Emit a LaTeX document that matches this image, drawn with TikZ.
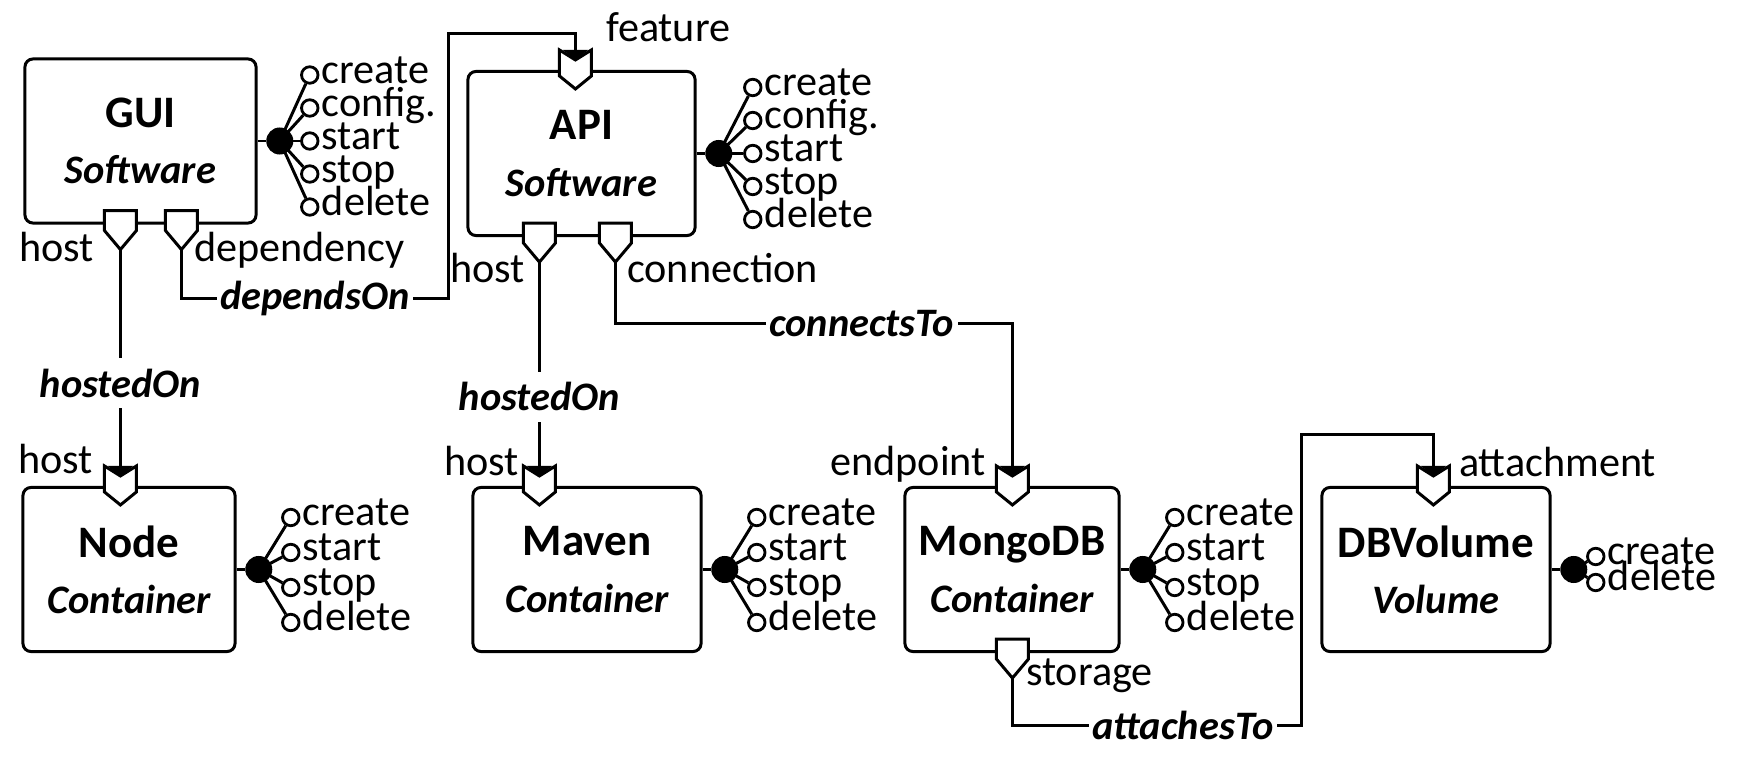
\documentclass[tikz,border=0pt]{standalone}
\usepackage{fontspec}
\setmainfont{Carlito}
\usepackage{tikz}
\usetikzlibrary{arrows.meta, positioning, calc}
\tikzstyle{component} = [rectangle, rounded corners=0.8mm, draw=black, line width=0.85pt, minimum height=1.64cm, align=center, inner sep=0pt, font=\fontsize{12.8}{16}\selectfont]
\tikzstyle{port} = [draw=black, fill=white, line width=0.85pt, line join=miter]
\tikzstyle{ifdot} = [circle, fill=black, minimum size=0.27cm, inner sep=0pt]
\tikzstyle{opcircle} = [circle, draw=black, fill=white, line width=0.8pt, minimum size=0.165cm, inner sep=0pt]
\tikzstyle{wire} = [line width=0.85pt]
\tikzstyle{link} = [line width=0.85pt, -{Triangle[width=2.5mm,length=1mm]}]
\tikzstyle{rel} = [fill=white, inner xsep=1pt, inner ysep=3pt, font=\fontsize{11.5}{13}\selectfont\bfseries\itshape]
\tikzstyle{plabel} = [inner sep=0pt, font=\fontsize{12}{14}\selectfont]

\newcommand{\comp}[2]{{\bfseries #1}\\{\fontsize{11.5}{16}\selectfont\bfseries\itshape #2}}

% requirement port under a box
\newcommand{\reqport}[3]{%
  \begin{scope}[shift={($(#2)+(#3,0)$)}]
    \draw[port] (-16,-14) -- (16,-14) -- (16,6) -- (0,25) -- (-16,6) -- cycle;
    \coordinate (#1) at (0,25);
  \end{scope}}
% capability port on top of a box
\newcommand{\capport}[3]{%
  \begin{scope}[shift={($(#2)+(#3,0)$)}]
    \draw[port] (-16,-20) -- (-16,6) -- (0,19) -- (16,6) -- (16,-20) -- (0,-10) -- cycle;
    \coordinate (#1) at (0,-10);
  \end{scope}}
% operations of a box
\newcommand{\interface}[5]{%
  \node (#1-if) [ifdot, right=0.08cm of #1] {};
  \draw[wire] (#1.east) -- (#1-if);
  \foreach \opname [count=\i] in {#5} {
    \pgfmathsetmacro{\dy}{#3+(\i-1)*#4}
    \node (#1-op\i) [opcircle] at ([shift={(#2,\dy)}]#1-if.center) {};
    \draw[wire] (#1-if.center) -- (#1-op\i);
    \node (#1-opl\i) [plabel, anchor=mid west, inner xsep=0.5pt] at (#1-op\i.east) {\opname};
  }}

\begin{document}
\begin{tikzpicture}[x=0.01cm, y=-0.01cm]
\useasboundingbox (0,0) rectangle (1747,770);

\node (gui) [component, minimum width=2.31cm] at (140.5,141) {\comp{GUI}{Software}};
\node (api) [component, minimum width=2.27cm] at (581.5,153.5) {\comp{API}{Software}};
\node (nodejs) [component, minimum width=2.12cm] at (129,569.5) {\comp{Node}{Container}};
\node (maven) [component, minimum width=2.28cm] at (587,569.5) {\comp{Maven}{Container}};
\node (mongo) [component, minimum width=2.14cm] at (1012,569.5) {\comp{MongoDB}{Container}};
\node (volume) [component, minimum width=2.28cm] at (1436,569.5) {\comp{DBVolume}{Volume}};

\reqport{guihost}{gui.south west}{97}
\reqport{guidep}{gui.south west}{158}
\capport{apifeat}{api.north west}{109}
\reqport{apihost}{api.south west}{73}
\reqport{apiconn}{api.south west}{149}
\capport{nodehost}{nodejs.north west}{99}
\capport{mavenhost}{maven.north west}{68}
\capport{mongoend}{mongo.north west}{109}
\reqport{mongostore}{mongo.south west}{109}
\capport{volattach}{volume.north west}{113}

\node (guihost-l) [plabel, anchor=base east] at ([shift={(-26,12)}]guihost) {host};
\node (guidep-l) [plabel, anchor=base west] at ([shift={(12,12)}]guidep) {dependency};
\node (apifeat-l) [plabel, anchor=base west] at ([shift={(30,-18)}]apifeat) {feature};
\node (apihost-l) [plabel, anchor=base east] at ([shift={(-14,20)}]apihost) {host};
\node (apiconn-l) [plabel, anchor=base west] at ([shift={(11,20)}]apiconn) {connection};
\node (nodehost-l) [plabel, anchor=base east] at ([shift={(-27,-2)}]nodehost) {host};
\node (mavenhost-l) [plabel, anchor=base east] at ([shift={(-20,0)}]mavenhost) {host};
\node (mongoend-l) [plabel, anchor=base east] at ([shift={(-26,0)}]mongoend) {endpoint};
\node (mongostore-l) [plabel, anchor=base west] at ([shift={(13,7)}]mongostore) {storage};
\node (volattach-l) [plabel, anchor=base west] at ([shift={(25,1)}]volattach) {attachment};

\interface{gui}{30}{-66}{33}{create,config.,start,stop,delete}
\interface{api}{34}{-66}{33}{create,config.,start,stop,delete}
\interface{nodejs}{32}{-52}{35}{create,start,stop,delete}
\interface{maven}{32}{-52}{35}{create,start,stop,delete}
\interface{mongo}{32}{-52}{35}{create,start,stop,delete}
\interface{volume}{22}{-13}{26}{create,delete}

\draw[link] (guihost) -- node (guihosted) [rel, pos=0.59] {hostedOn} (guihost |- nodehost);
\draw[link] (guidep) -- ++(0,49) -- node (dependson) [rel] {dependsOn} ++(267,0) -- ++(0,-265) -| (apifeat);
\draw[link] (apihost) -- node (apihosted) [rel, pos=0.63] {hostedOn} (apihost |- mavenhost);
\draw[link] (apiconn) -- ++(0,61) -| node (connectsto) [rel, pos=0.31] {connectsTo} (mongoend);
\draw[link] (mongostore) -- ++(0,47) -- node (attachesto) [rel, pos=0.59] {attachesTo} ++(289,0) -- ++(0,-291) -| (volattach);

\end{tikzpicture}
\end{document}
